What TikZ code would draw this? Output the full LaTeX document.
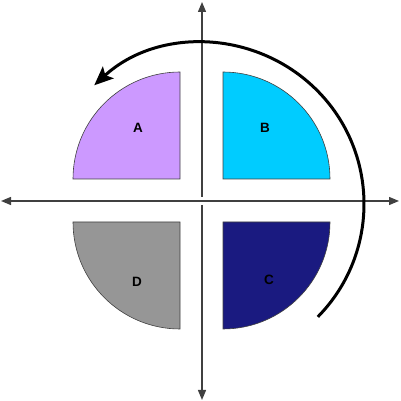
\documentclass[tikz,border=0pt]{standalone}
\usepackage{fontspec}
\setmainfont{Liberation Sans}
\usetikzlibrary{arrows.meta}
\definecolor{qa}{HTML}{CC99FF}
\definecolor{qb}{HTML}{00CCFF}
\definecolor{qc}{HTML}{1A1A80}
\definecolor{qd}{HTML}{969696}
\definecolor{axisgray}{HTML}{404040}
\tikzset{
  quarter/.style={draw=black!75, line width=0.6pt},
  axisline/.style={draw=axisgray, line width=1.3pt, -{Triangle[length=10pt,width=8pt]}},
  qlabel/.style={font=\fontsize{13.5}{15}\selectfont\bfseries, text=black, inner sep=0pt},
  cycle arrow/.style={draw=black, line width=3pt, -{Stealth[length=19pt,width=16pt,inset=4pt]}}
}
\begin{document}
\begin{tikzpicture}[x=1pt,y=1pt]
\useasboundingbox (0,0) rectangle (400,401);
% quarters
\fill[qa] (180,222) -- (73,222) arc[start angle=180,end angle=90,radius=107] -- cycle;
\draw[quarter] (180,222) -- (73,222) arc[start angle=180,end angle=90,radius=107] -- cycle;
\fill[qb] (223,222) -- (330,222) arc[start angle=0,end angle=90,radius=107] -- cycle;
\draw[quarter] (223,222) -- (330,222) arc[start angle=0,end angle=90,radius=107] -- cycle;
\fill[qc] (223,179) -- (330,179) arc[start angle=0,end angle=-90,radius=107] -- cycle;
\draw[quarter] (223,179) -- (330,179) arc[start angle=0,end angle=-90,radius=107] -- cycle;
\fill[qd] (180,179) -- (73,179) arc[start angle=180,end angle=270,radius=107] -- cycle;
\draw[quarter] (180,179) -- (73,179) arc[start angle=180,end angle=270,radius=107] -- cycle;
% labels
\node[qlabel] (la) at (138,273) {A};
\node[qlabel] (lb) at (265,273) {B};
\node[qlabel] (lc) at (269,121) {C};
\node[qlabel] (ld) at (137,119) {D};
% axes
\coordinate (o) at (202,200);
\coordinate (top) at (202,399);
\coordinate (bot) at (202,1);
\coordinate (lft) at (1,200);
\coordinate (rgt) at (399,200);
\draw[axisline] (202,204) -- (top);
\draw[axisline] (202,196) -- (bot);
\draw[axisline] (o) -- (lft);
\draw[axisline] (o) -- (rgt);
% cycle arrow
\draw[cycle arrow] (203,197) ++(-44.5:161) arc[start angle=-44.5,end angle=132.5,radius=161];
\end{tikzpicture}
\end{document}
